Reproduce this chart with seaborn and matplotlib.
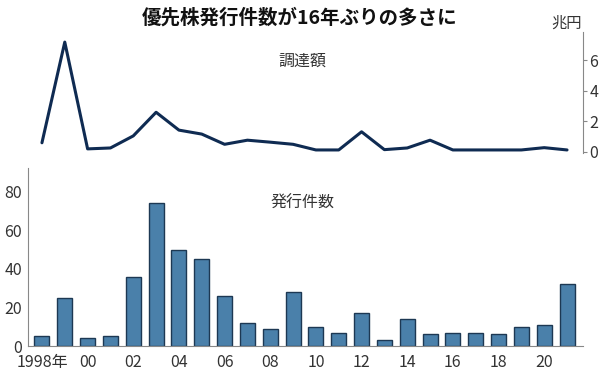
import numpy as np
import pandas as pd
import matplotlib
matplotlib.use("Agg")
import matplotlib.pyplot as plt
import seaborn as sns

# ── Data ──────────────────────────────────────────────────────────────────────
years = list(range(1998, 2022))
amount = [0.6, 7.2, 0.2, 0.26, 1.05, 2.6, 1.43, 1.17, 0.5, 0.77, 0.64, 0.5,
          0.13, 0.13, 1.32, 0.15, 0.26, 0.77, 0.13, 0.13, 0.13, 0.13, 0.28, 0.13]
counts = [5, 25, 4, 5, 36, 74, 50, 45, 26, 12, 9, 28,
          10, 7, 17, 3, 14, 6, 7, 7, 6, 10, 11, 32]
xtick_labels = ["1998年", "00", "02", "04", "06", "08", "10",
                "12", "14", "16", "18", "20"]

df = pd.DataFrame({"year": years, "amount": amount, "count": counts})
df["pos"] = np.arange(len(df))

sns.set_style("white")
plt.rcParams["font.family"] = ["Noto Sans CJK JP", "DejaVu Sans"]

LINE_C = "#0f2b52"
BAR_C = "#4a80aa"
EDGE_C = "#1d3853"
SPINE_C = "#888888"
TEXT_C = "#333333"

fig = plt.figure(figsize=(6, 3.75), dpi=100)
ax_top = fig.add_axes([0.0467, 0.592, 0.925, 0.323])
ax_bot = fig.add_axes([0.0467, 0.0773, 0.925, 0.4747])

XLIM = (-0.61, 23.7)

# ── Top: 調達額 line ──────────────────────────────────────────────────────────
sns.lineplot(data=df, x="pos", y="amount", ax=ax_top, color=LINE_C, linewidth=2.2)
ax_top.set_xlim(*XLIM)
ax_top.set_ylim(-0.07, 7.87)
for s in ["top", "left", "bottom"]:
    ax_top.spines[s].set_visible(False)
ax_top.spines["right"].set_color(SPINE_C)
ax_top.spines["right"].set_linewidth(0.8)
ax_top.yaxis.tick_right()
ax_top.set_yticks([0, 2, 4, 6])
ax_top.tick_params(axis="y", direction="out", length=3, width=0.8, color=SPINE_C,
                   labelsize=11.5, labelcolor=TEXT_C, pad=1.5)
ax_top.set_xticks([])
ax_top.set_xlabel("")
ax_top.set_ylabel("")
ax_top.text(0.495, 0.755, "調達額", transform=ax_top.transAxes, ha="center",
            va="center", fontsize=11.5, color=TEXT_C)

# ── Bottom: 発行件数 bars ─────────────────────────────────────────────────────
sns.barplot(data=df, x="pos", y="count", ax=ax_bot, color=BAR_C, width=0.66,
            edgecolor=EDGE_C, linewidth=1.0, saturation=1)
ax_bot.set_xlim(*XLIM)
ax_bot.set_ylim(0, 92.3)
ax_bot.spines["top"].set_visible(False)
ax_bot.spines["right"].set_visible(False)
for s in ["left", "bottom"]:
    ax_bot.spines[s].set_color(SPINE_C)
    ax_bot.spines[s].set_linewidth(0.8)
ax_bot.set_yticks([0, 20, 40, 60, 80])
ax_bot.set_xticks(np.arange(0, 24, 2))
ax_bot.set_xticklabels(xtick_labels)
ax_bot.tick_params(axis="y", direction="out", length=3, width=0.8, color=SPINE_C,
                   labelsize=11.5, labelcolor=TEXT_C, pad=1.5)
ax_bot.tick_params(axis="x", length=0, labelsize=11.5, labelcolor=TEXT_C, pad=6)
ax_bot.set_xlabel("")
ax_bot.set_ylabel("")
ax_bot.text(0.495, 0.80, "発行件数", transform=ax_bot.transAxes, ha="center",
            va="center", fontsize=11.5, color=TEXT_C)

# ── Titles ───────────────────────────────────────────────────────────────────
fig.text(0.5, 0.952, "優先株発行件数が16年ぶりの多さに", ha="center", va="center",
         fontsize=14, fontweight="bold", color="#111111")
fig.text(0.97, 0.938, "兆円", ha="right", va="center", fontsize=11, color=TEXT_C)

fig.savefig("out.png", dpi=100)
